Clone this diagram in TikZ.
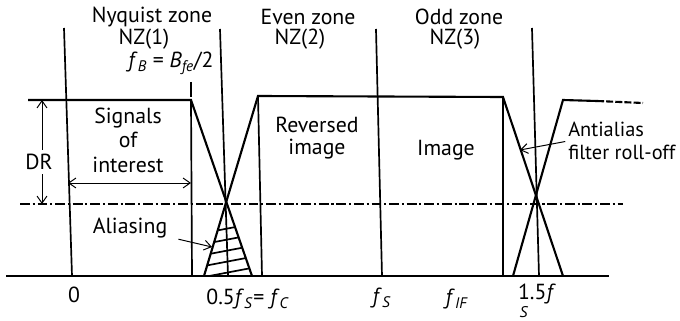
\documentclass[tikz,border=0pt]{standalone}
\usepackage{fontspec}
\setmainfont{PT Sans}
\usetikzlibrary{arrows.meta}
\newcommand\fq[2]{\textit{#1}\textsubscript{\textit{#2}}}

\begin{document}
\begin{tikzpicture}[
  x=0.025cm, y=-0.025cm,
  lbl/.style={font=\fontsize{15.5}{16}\selectfont, inner sep=0pt, align=center},
  spec/.style={line width=1.5pt, line join=miter},
  zone/.style={line width=1.2pt},
  ptr/.style={line width=0.7pt, -{Straight Barb[length=5pt,width=7pt]}},
  dashdot/.style={line width=0.8pt, dash pattern=on 7pt off 2pt on 1.5pt off 2pt},
]
  \useasboundingbox (0,0) rectangle (680,321);

  \coordinate (p0) at (28,100);
  \coordinate (b1) at (191,100);
  \coordinate (x1) at (227,204);
  \coordinate (e1) at (252,276);
  \coordinate (s2) at (204,276);
  \coordinate (t2) at (258,96);
  \coordinate (b2) at (503,97);
  \coordinate (x2) at (537,204);
  \coordinate (e2) at (563,276);
  \coordinate (s3) at (513,276);
  \coordinate (t3) at (563,100);
  \coordinate (d3) at (597,101);
  \coordinate (end3) at (643,103);

  % zone borders
  \draw[zone] (64,28) -- (72,276);
  \draw[zone] (220,29) -- (228,276);
  \draw[zone] (376,29) -- (382,276);
  \draw[zone] (532,28) -- (539,276);

  \draw[zone] (b1) -- (192,276);
  \draw[zone] (t2) -- (262,276);
  \draw[zone] (b2) -- (503,276);
  \draw[zone] (191,82) -- (191,97);

  \draw[zone] (6,276) -- (609,276);
  \draw[dashdot] (20,204) -- (623,204);

  % spectra
  \draw[spec] (p0) -- (b1) -- (e1);
  \draw[spec] (s2) -- (t2) -- (b2) -- (e2);
  \draw[spec] (s3) -- (t3) -- (d3);
  \draw[spec, dash pattern=on 5pt off 1.5pt] (d3) -- (end3);

  \begin{scope}
    \clip (s2) -- (x1) -- (e1) -- cycle;
    \foreach \y in {277,266,255,244,233}
      \draw[zone] (200,\y+0.76) -- (260,\y-10.64);
  \end{scope}

  \node[lbl] (nyq) at (152,17) {Nyquist zone};
  \node[lbl] (nz1) at (144,39) {NZ(1)};
  \node[lbl] (fb) at (171,63) {\fq{f}{B} = \textit{B}\textsubscript{\textit{fe}}/2};
  \node[lbl] (even) at (308,17) {Even zone};
  \node[lbl] (nz2) at (300,39) {NZ(2)};
  \node[lbl] (odd) at (459,17) {Odd zone};
  \node[lbl] (nz3) at (455,39) {NZ(3)};

  \node[lbl, font=\fontsize{15.5}{17.5}\selectfont] (sig) at (128,140) {Signals\\of\\interest};
  \node[lbl] (rev) at (317,138) {Reversed\\image};
  \node[lbl] (img) at (446,150) {Image};
  \node[lbl] (alias) at (130,228) {Aliasing};
  \node[lbl, font=\fontsize{14.5}{16}\selectfont, align=left, anchor=west] (aa) at (568,141) {Antialias\\filter roll-off};
  \node[lbl] (dr) at (39,162) {DR};

  \node[lbl] (f0) at (74,295) {0};
  \node[lbl] (fc) at (248,299) {0.5\fq{f}{S}= \fq{f}{C}};
  \node[lbl] (fs) at (382,298) {\fq{f}{S}};
  \node[lbl] (fif) at (457,299) {\fq{f}{IF}};
  \node[lbl] (f15) at (537,294) {1.5\textit{f}};
  \node[lbl, font=\fontsize{11}{12}\selectfont, anchor=north] (f15s) at (524,306) {\textit{S}};

  \coordinate (drTop) at (42,100);
  \coordinate (drBot) at (42,204);
  \coordinate (intL) at (68,183);
  \coordinate (intR) at (191,183);
  \coordinate (aliasTip) at (212,247);
  \coordinate (aaTip) at (520,150);

  \draw[ptr, shorten <=3pt] (dr.north -| drTop) -- (drTop);
  \draw[ptr, shorten <=3pt] (dr.south -| drBot) -- (drBot);
  \draw[line width=0.7pt, {Straight Barb[length=5pt,width=7pt]}-{Straight Barb[length=5pt,width=7pt]}] (intL) -- (intR);
  \draw[ptr, shorten <=8pt] (alias) -- (aliasTip);
  \draw[ptr, shorten <=2pt] (aa.west) -- (aaTip);
\end{tikzpicture}
\end{document}
